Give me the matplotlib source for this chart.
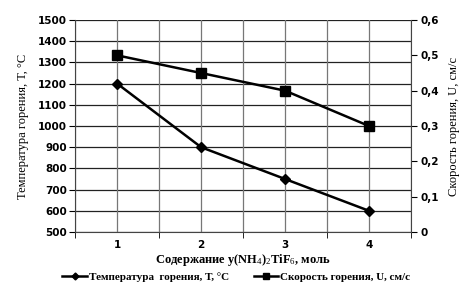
import matplotlib
matplotlib.use('Agg')
import matplotlib.pyplot as plt
from matplotlib.ticker import FuncFormatter

# data
content = [1, 2, 3, 4]
temperature = [1200, 900, 750, 600]
speed = [0.5, 0.45, 0.4, 0.3]
temp_ticks = list(range(500, 1501, 100))
speed_ticks = [0, 0.1, 0.2, 0.3, 0.4, 0.5, 0.6]

plt.rcParams['mathtext.fontset'] = 'custom'
plt.rcParams['mathtext.rm'] = 'Liberation Serif'
plt.rcParams['mathtext.it'] = 'Liberation Serif'

serif = 'Liberation Serif'
tickfont = {'family': 'DejaVu Sans', 'weight': 'bold', 'size': 7.5}

fig, ax = plt.subplots(figsize=(4.73, 2.99), dpi=100)
fig.subplots_adjust(left=0.159, right=0.869, top=0.933, bottom=0.224)
ax2 = ax.twinx()

ax.set_xlim(0.5, 4.5)
ax.set_ylim(500, 1500)
ax2.set_ylim(0, 0.6)

# grid
for y in temp_ticks:
    ax.axhline(y, color='#222222', lw=0.9, zorder=0)
for x in [0.5 + 0.5 * i for i in range(9)]:
    ax.axvline(x, color='#777777', lw=0.9, zorder=0)

l1, = ax.plot(content, temperature, color='black', lw=1.8, marker='D', ms=5,
              label='Температура  горения, Т, °С', zorder=3)
l2, = ax2.plot(content, speed, color='black', lw=1.8, marker='s', ms=7,
               label='Скорость горения, U, см/с', zorder=3)

ax.set_yticks(temp_ticks)
ax.set_yticklabels([str(t) for t in temp_ticks], fontdict=tickfont)
ax.set_xticks(content)
ax.set_xticklabels([str(c) for c in content], fontdict=tickfont)
ax.set_xticks([0.5, 1.5, 2.5, 3.5, 4.5], minor=True)
ax.tick_params(axis='x', which='major', length=0, pad=6)
ax.tick_params(axis='x', which='minor', length=4, direction='out')
ax.tick_params(axis='y', length=4, direction='out', pad=2)

ax2.set_yticks(speed_ticks)
ax2.yaxis.set_major_formatter(FuncFormatter(lambda v, p: ('%g' % round(v, 1)).replace('.', ',')))
for t in ax2.get_yticklabels():
    t.set_fontfamily('DejaVu Sans')
    t.set_fontweight('bold')
    t.set_fontsize(7.5)
ax2.tick_params(axis='y', length=4, direction='out', pad=3)

for a in (ax, ax2):
    for s in a.spines.values():
        s.set_visible(False)
ax.spines['left'].set_visible(True)
ax.spines['bottom'].set_visible(True)
ax2.spines['right'].set_visible(True)
ax.spines['left'].set_color('#444444')
ax.spines['bottom'].set_color('#444444')
ax2.spines['right'].set_color('#444444')

ax.set_ylabel('Температура горения, Т, °С', fontfamily=serif, fontsize=9, labelpad=6)
ax2.set_ylabel('Скорость горения, U, см/с', fontfamily=serif, fontsize=9, labelpad=6)
ax.set_xlabel('Содержание y(NH$_4$)$_2$TiF$_6$, моль', fontfamily=serif, fontsize=9,
              fontweight='bold', labelpad=1)

fig.legend(handles=[l1, l2], loc='center', bbox_to_anchor=(0.5, 0.072), ncol=2,
           frameon=False, prop={'family': serif, 'size': 8, 'weight': 'bold'},
           handlelength=2.2, columnspacing=2.2, handletextpad=0.2, markerscale=0.7)

fig.savefig('out.png', dpi=100)
